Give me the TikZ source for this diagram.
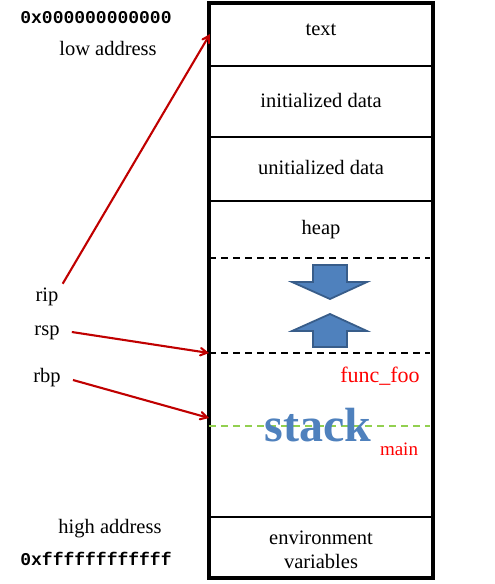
\documentclass[tikz,border=0pt]{standalone}
\usepackage{fontspec}
\setmainfont{Liberation Serif}
\setmonofont{Liberation Mono}
\usepackage{xcolor}
\usetikzlibrary{arrows}

\definecolor{ptrred}{HTML}{C00000}
\definecolor{stackblue}{HTML}{4F81BD}
\definecolor{stackedge}{HTML}{385D8A}
\definecolor{framegreen}{HTML}{92D050}

\begin{document}
\begin{tikzpicture}[x=1pt, y=-1pt, >=angle 60, semithick]
    \tikzstyle{lbl}=[font=\fontsize{20.5}{23}\selectfont, inner sep=0pt]
    \tikzstyle{addr}=[font=\fontsize{18}{20}\ttfamily\bfseries, inner sep=0pt]
    \tikzstyle{ptr}=[->, ptrred, line width=2.1pt]
    \tikzstyle{sepline}=[line width=1.9pt, dashed, dash pattern=on 7pt off 5pt]
    \tikzstyle{growarrow}=[fill=stackblue, draw=stackedge, line width=1.8pt, line join=miter]

    \useasboundingbox (0,0) rectangle (495,584);

    % memory layout
    \draw[line width=3.2pt] (209,3) rectangle (433,578);
    \draw[line width=2.2pt] (209,66) -- (433,66);
    \draw[line width=2.2pt] (209,137) -- (433,137);
    \draw[line width=2.2pt] (209,201) -- (433,201);
    \draw[line width=2.2pt] (209,517) -- (433,517);
    \draw[sepline] (209,258) -- (430,258);
    \draw[sepline] (209,353) -- (430,353);
    \draw[sepline, framegreen] (209,426) -- (430,426);

    \node[lbl] (txt)  at (321,30)  {text};
    \node[lbl] (init) at (321,100) {initialized data};
    \node[lbl] (bss)  at (321,167) {unitialized data};
    \node[lbl] (heap) at (321,230) {heap};
    \node[lbl, align=center] (env) at (321,550) {environment\\[1pt]variables};

    % growth arrows
    \draw[growarrow] (313,265) -- (347,265) -- (347,282) -- (367,282) -- (330,299)
        -- (292,282) -- (313,282) -- cycle;
    \draw[growarrow] (313,347) -- (347,347) -- (347,331) -- (367,331) -- (330,314)
        -- (292,331) -- (313,331) -- cycle;

    \node[font=\fontsize{48}{50}\selectfont\bfseries, text=stackblue, inner sep=0pt]
        (stk) at (318,425) {stack};
    \node[lbl, text=red, font=\fontsize{22}{24}\selectfont] (foo) at (380,376) {func\_foo};
    \node[lbl, text=red, font=\fontsize{19}{21}\selectfont] (main) at (399,449) {main};

    % addresses
    \node[addr] (lo)    at (96,18)   {0x000000000000};
    \node[lbl]  (loTxt) at (108,48)  {low address};
    \node[lbl]  (hiTxt) at (110,529) {high address};
    \node[addr] (hi)    at (96,559)  {0xffffffffffff};

    % registers
    \node[lbl] (rip) at (47,297) {rip};
    \node[lbl] (rsp) at (47,333) {rsp};
    \node[lbl] (rbp) at (47,378) {rbp};

    \coordinate (ripT) at (210,34);
    \coordinate (rspT) at (209,353);
    \coordinate (rbpT) at (209,418);

    \draw[ptr] (rip.north east) ++(4,-4) -- (ripT);
    \draw[ptr] (rsp.east) ++(12,-1) -- (rspT);
    \draw[ptr] (rbp.east) ++(12,2) -- (rbpT);
\end{tikzpicture}
\end{document}
